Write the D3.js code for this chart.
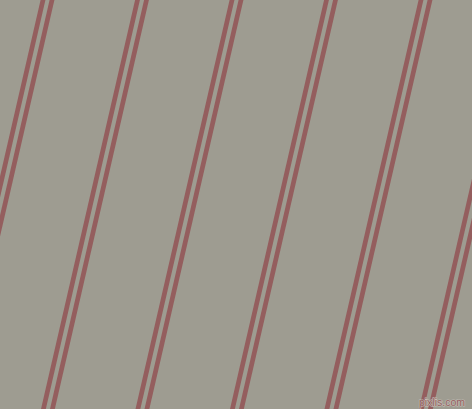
<!DOCTYPE html>
<html>
<head>
<meta charset="utf-8">
<script src="https://cdn.jsdelivr.net/npm/d3@7"></script>
<style>
  html, body { margin: 0; padding: 0; background: #9e9c91; overflow: hidden; }
  svg { display: block; }
</style>
</head>
<body>
<svg class="pattern"></svg>
<script>
const size = {w: 472, h: 409};

// where each stripe pair crosses the top edge (px along x)
const pairStarts = [43, 137.5, 232, 326.5, 421, 515.5];
// the two thin lines of a pair, offset from the pair start
const lineOffsets = [0, 9];
// horizontal drift per pixel down (lines lean to the left going down)
const drift = 0.23;
const watermark = ['pixlis.com'];

const svg = d3.select('svg.pattern')
    .attr('width', size.w)
    .attr('height', size.h);

const x = d3.scaleLinear().domain([0, size.w]).range([0, size.w]);
const y = d3.scaleLinear().domain([0, size.h]).range([0, size.h]);

svg.append('rect')
    .attr('width', size.w)
    .attr('height', size.h)
    .attr('fill', '#9e9c91');

// flatten pairs into single lines
let lines = [];
pairStarts.forEach(s => lineOffsets.forEach(o => lines.push(s + o)));

const ends = [-10, size.h + 10];
const pathFn = d3.line()
    .x(d => x(d[0] - drift * d[1]))
    .y(d => y(d[1]));

svg.append('g')
    .selectAll('path')
    .data(lines)
    .join('path')
    .attr('d', d => pathFn(ends.map(e => [d, e])))
    .attr('stroke', '#945e5e')
    .attr('stroke-width', 4.7)
    .attr('fill', 'none');

// small site mark, bottom right
svg.selectAll('text.mark')
    .data(watermark)
    .join('text')
    .classed('mark', true)
    .attr('x', 465)
    .attr('y', 406)
    .attr('text-anchor', 'end')
    .attr('font-family', 'Liberation Sans, sans-serif')
    .attr('font-size', 10.5)
    .attr('paint-order', 'stroke')
    .attr('stroke', '#c4beb6')
    .attr('stroke-width', 1.2)
    .attr('fill', '#945e5e')
    .text(d => d);
</script>
</body>
</html>
